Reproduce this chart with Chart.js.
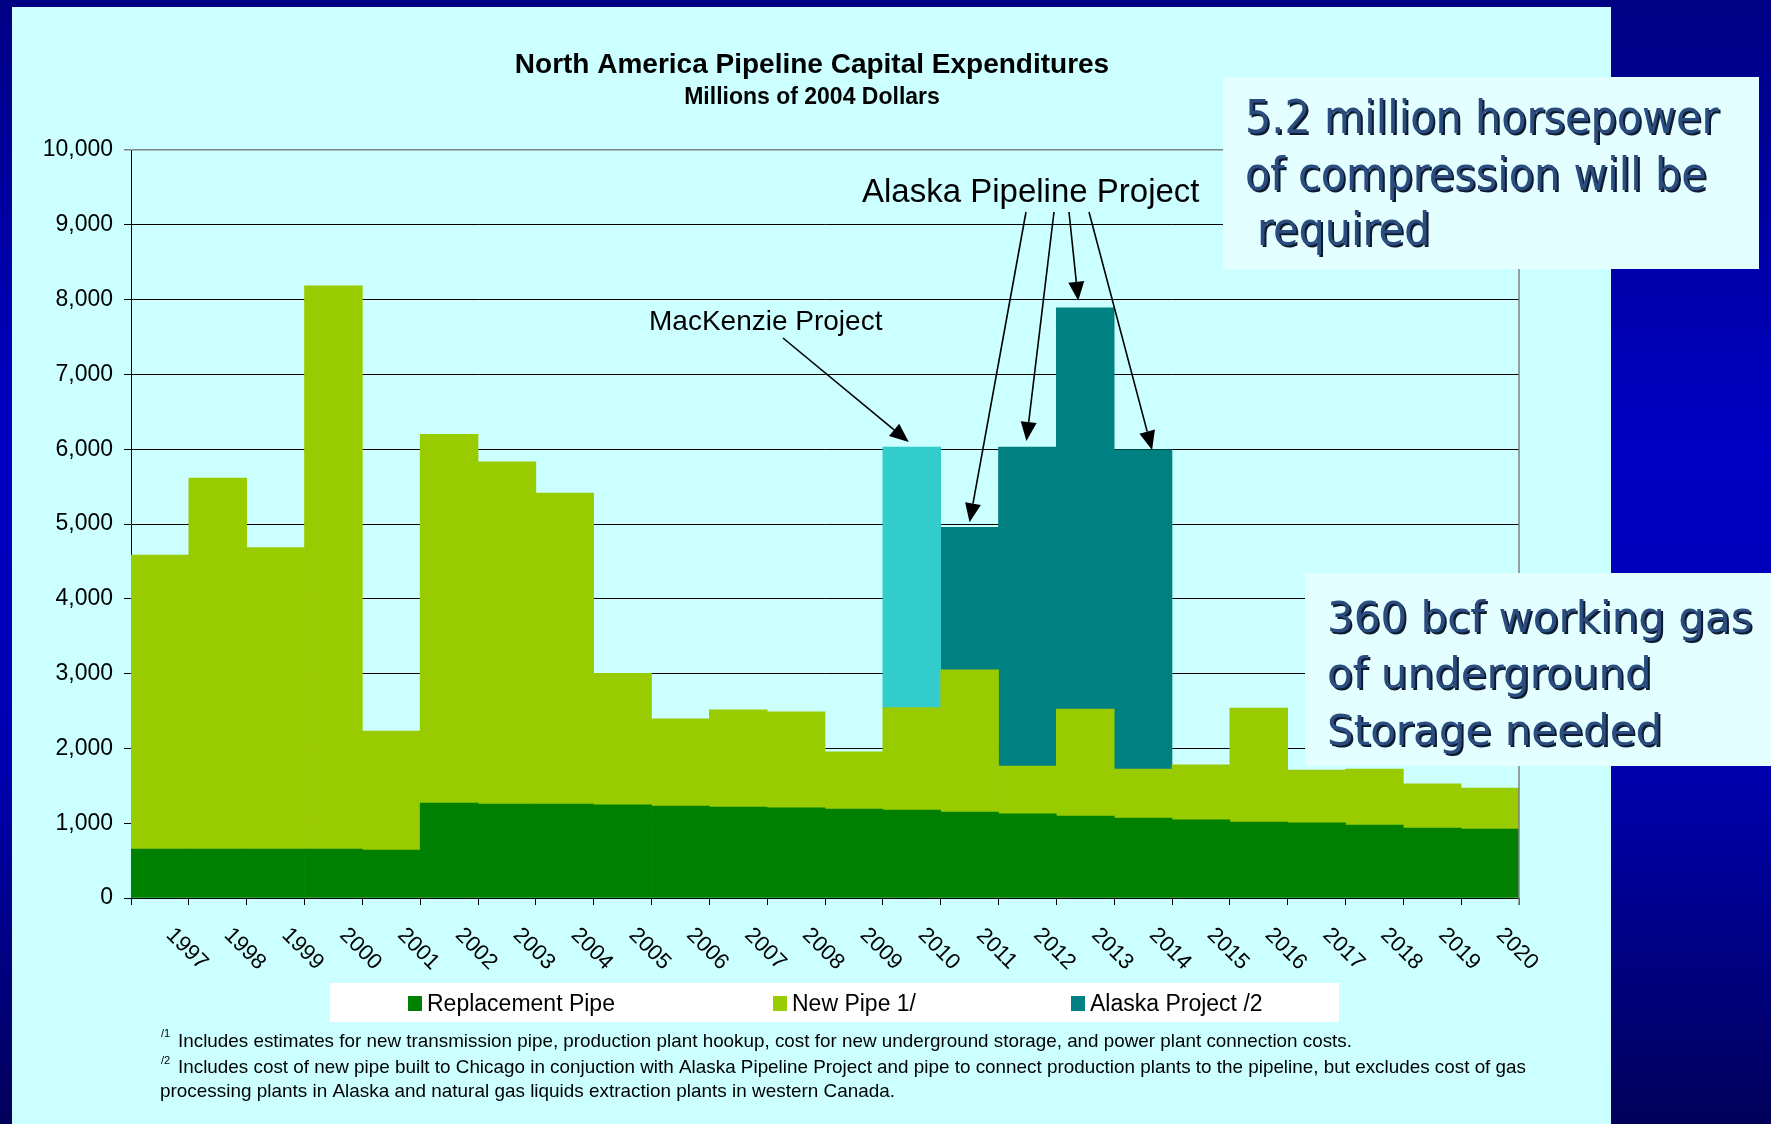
<!DOCTYPE html>
<html>
<head>
<meta charset="utf-8">
<script src="https://cdn.jsdelivr.net/npm/chart.js@4.4.1/dist/chart.umd.min.js"></script>
<style>
  html, body { margin: 0; padding: 0; }
  body {
    width: 1771px; height: 1124px; overflow: hidden; position: relative;
    background: linear-gradient(to bottom, #000084 0%, #0000c4 40%, #0000b0 68%, #00005a 100%);
  }
  #panel { position: absolute; left: 12px; top: 7px; width: 1599px; height: 1117px; background: #ccffff; }
  #mycanvas { position: absolute; left: 0; top: 0; }
</style>
</head>
<body>
<div id="panel"></div>
<canvas id="mycanvas" width="1771" height="1124"></canvas>
<script>
// data (millions of 2004 dollars)
const years = ['1997', '1998', '1999', '2000', '2001', '2002', '2003', '2004', '2005', '2006', '2007', '2008',
  '2009', '2010', '2011', '2012', '2013', '2014', '2015', '2016', '2017', '2018', '2019', '2020'];
const replacement = [655, 655, 655, 655, 640, 1270, 1255, 1255, 1245, 1230, 1215, 1205,
  1190, 1175, 1150, 1125, 1095, 1070, 1045, 1015, 1005, 975, 935, 920];
const newPipe = [3930, 4960, 4030, 7530, 1590, 4930, 4575, 4160, 1760, 1165, 1300, 1285,
  765, 1370, 1900, 640, 1430, 655, 735, 1525, 705, 750, 590, 550];
const mackenzie = [null, null, null, null, null, null, null, null, null, null, null, null,
  null, 3485, null, null, null, null, null, null, null, null, null, null];
const alaska = [null, null, null, null, null, null, null, null, null, null, null, null,
  null, null, 1905, 4265, 5365, 4265, null, null, null, null, null, null];
const yMax = 10000;
const yStep = 1000;

const legendNames = ['Replacement Pipe', 'New Pipe 1/', 'Alaska Project /2'];
const colors = { replacement: '#008000', newPipe: '#99cc00', mackenzie: '#33cccc', alaska: '#008080' };

const FONT = '"Liberation Sans", Arial, sans-serif';
Chart.defaults.font.family = FONT;

function arrow(c, x1, y1, x2, y2) {
  const a = Math.atan2(y2 - y1, x2 - x1);
  const len = 19, w = 8;
  const bx = x2 - len * Math.cos(a), by = y2 - len * Math.sin(a);
  c.beginPath(); c.moveTo(x1, y1); c.lineTo(bx, by); c.stroke();
  c.beginPath();
  c.moveTo(x2, y2);
  c.lineTo(bx + w * Math.sin(a), by - w * Math.cos(a));
  c.lineTo(bx - w * Math.sin(a), by + w * Math.cos(a));
  c.closePath(); c.fill();
}

function textBox(c, box, lines, font, maxW) {
  c.save();
  c.fillStyle = '#e4ffff';
  c.fillRect(box[0], box[1], box[2], box[3]);
  c.font = font;
  c.textAlign = 'left';
  c.textBaseline = 'alphabetic';
  const sx = Math.min(1, maxW / c.measureText(lines[0][0]).width);
  c.fillStyle = '#2b4c7e';
  c.shadowColor = '#0e1a30';
  c.shadowOffsetX = 2;
  c.shadowOffsetY = 2;
  lines.forEach(([t, x, y]) => {
    c.save(); c.translate(x, y); c.scale(sx, 1); c.fillText(t, 0, 0); c.restore();
  });
  c.restore();
}

// stacked totals, used to aim the arrows at bar tops
function total(i) {
  return replacement[i] + newPipe[i] + (mackenzie[i] || 0) + (alaska[i] || 0);
}

const annotations = {
  id: 'annotations',
  afterDraw(chart) {
    const c = chart.ctx;
    const x = chart.scales.x, y = chart.scales.y;
    const area = chart.chartArea;
    c.save();

    // plot border right side
    c.strokeStyle = '#808080';
    c.lineWidth = 1.5;
    c.beginPath(); c.moveTo(area.right, area.top); c.lineTo(area.right, area.bottom + 7); c.stroke();

    // title
    c.fillStyle = '#000';
    c.textAlign = 'center';
    c.textBaseline = 'alphabetic';
    c.font = 'bold 28px ' + FONT;
    c.fillText('North America Pipeline Capital Expenditures', 812, 73);
    c.font = 'bold 23px ' + FONT;
    c.fillText('Millions of 2004 Dollars', 812, 104);

    // x labels, turned 45 deg clockwise
    c.font = '22px ' + FONT;
    c.textBaseline = 'middle';
    years.forEach((yr, i) => {
      c.save();
      c.translate(x.getPixelForValue(i) + 27, area.bottom + 51);
      c.rotate(Math.PI / 4);
      c.fillText(yr, 0, 0);
      c.restore();
    });

    // callouts
    c.textAlign = 'left';
    c.textBaseline = 'alphabetic';
    c.font = '28px ' + FONT;
    c.fillText('MacKenzie Project', 649, 330);
    c.font = '33px ' + FONT;
    c.fillText('Alaska Pipeline Project', 862, 202);

    c.strokeStyle = '#000';
    c.fillStyle = '#000';
    c.lineWidth = 1.6;
    arrow(c, 783, 338, x.getPixelForValue(13) - 3, y.getPixelForValue(total(13)) - 5);
    const tips = [[1026, 14, 0, -5], [1054, 15, -1, -6], [1069, 16, -7, -7], [1089, 17, 9, 0]];
    tips.forEach(([sx, i, dx, dy]) => {
      arrow(c, sx, 212, x.getPixelForValue(i) + dx, y.getPixelForValue(total(i)) + dy);
    });

    // legend
    c.fillStyle = '#fff';
    c.fillRect(330, 983, 1009, 39);
    const legX = [408, 773, 1071];
    const legC = [colors.replacement, colors.newPipe, colors.alaska];
    c.font = '23px ' + FONT;
    legendNames.forEach((name, i) => {
      c.fillStyle = legC[i];
      c.fillRect(legX[i], 996, 14, 15);
      c.fillStyle = '#000';
      c.fillText(name, legX[i] + 19, 1011);
    });

    // footnotes
    c.font = '11px ' + FONT;
    c.fillText('/1', 161, 1037);
    c.fillText('/2', 161, 1064);
    c.font = '19px ' + FONT;
    c.fillText('Includes estimates for new transmission pipe, production plant hookup, cost for new underground storage, and power plant connection costs.', 178, 1047, 1174);
    c.fillText('Includes cost of new pipe built to Chicago in conjuction with Alaska Pipeline Project and pipe to connect production plants to the pipeline, but excludes cost of gas', 178, 1073, 1348);
    c.fillText('processing plants in Alaska and natural gas liquids extraction plants in western Canada.', 160, 1097, 735);
    c.restore();

    // text boxes
    textBox(c, [1223, 77, 536, 192], [
      ['5.2 million horsepower', 1245, 133],
      ['of compression will be', 1245, 190],
      ['required', 1257, 245]
    ], '46px "DejaVu Sans Condensed", "DejaVu Sans", sans-serif', 479);
    textBox(c, [1305, 573, 466, 193], [
      ['360 bcf working gas', 1327, 632],
      ['of underground', 1327, 688],
      ['Storage needed', 1327, 745]
    ], '42px "DejaVu Sans", sans-serif', 426);
  }
};

const ctx = document.querySelector('#mycanvas').getContext('2d');
const barStyle = { barPercentage: 1, categoryPercentage: 1, borderWidth: 0, stack: 'capex' };
const myChart = new Chart(ctx, {
  type: 'bar',
  data: {
    labels: years,
    datasets: [
      { label: legendNames[0], data: replacement, backgroundColor: colors.replacement, ...barStyle },
      { label: legendNames[1], data: newPipe, backgroundColor: colors.newPipe, ...barStyle },
      { label: 'MacKenzie Project', data: mackenzie, backgroundColor: colors.mackenzie, ...barStyle },
      { label: legendNames[2], data: alaska, backgroundColor: colors.alaska, ...barStyle }
    ]
  },
  options: {
    responsive: false,
    animation: false,
    layout: { padding: { top: 150, right: 252, left: 0, bottom: 0 } },
    plugins: {
      legend: { display: false },
      tooltip: { enabled: false },
      title: { display: false }
    },
    scales: {
      x: {
        stacked: true,
        afterFit: s => { s.height = 226; },
        grid: { offset: true, drawOnChartArea: false, drawTicks: true, tickLength: 7, color: '#000' },
        border: { color: '#000', width: 1 },
        ticks: { color: 'rgba(0,0,0,0)', autoSkip: false, maxRotation: 0, font: { size: 21 } }
      },
      y: {
        stacked: true,
        min: 0,
        max: yMax,
        afterFit: s => { s.width = 131; },
        grid: {
          color: g => (g.tick && g.tick.value === yMax ? '#808080' : '#000'),
          lineWidth: g => (g.tick && g.tick.value === yMax ? 1.5 : 1),
          tickLength: 7
        },
        border: { color: '#000', width: 1 },
        ticks: {
          stepSize: yStep,
          color: '#000',
          padding: 11,
          font: { size: 23 },
          callback: v => v.toLocaleString('en-US')
        }
      }
    }
  },
  plugins: [annotations]
});
</script>
</body>
</html>
